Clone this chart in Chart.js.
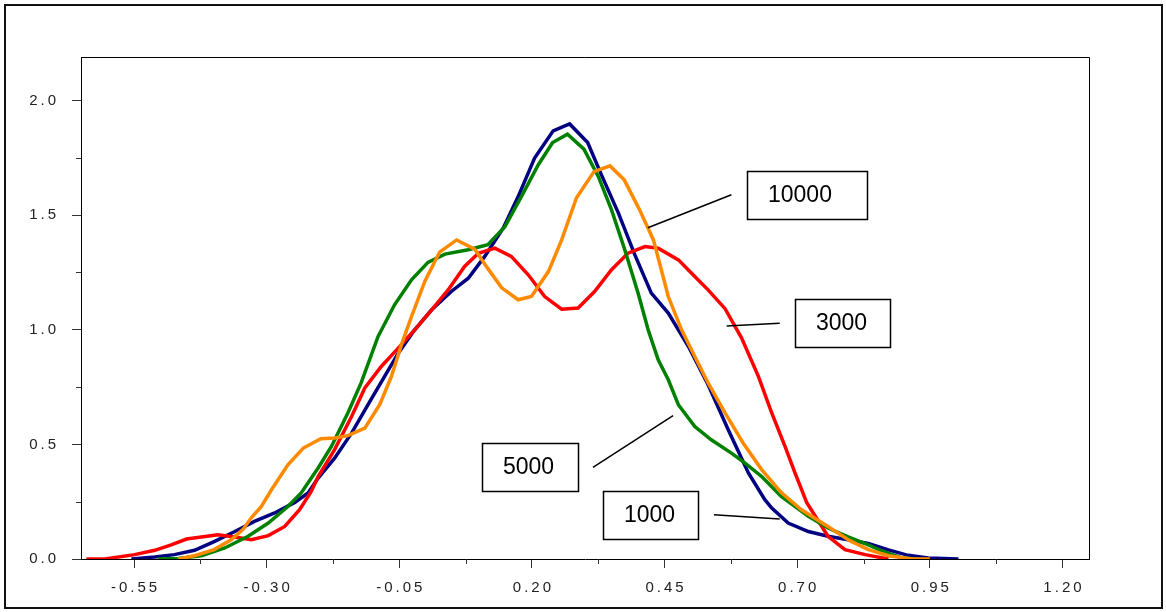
<!DOCTYPE html>
<html>
<head>
<meta charset="utf-8">
<script src="https://cdn.jsdelivr.net/npm/chart.js@4.4.1/dist/chart.umd.min.js"></script>
<style>
  html, body { margin: 0; padding: 0; background: #fff; }
  #wrap { width: 1166px; height: 612px; }
</style>
</head>
<body>
<div id="wrap"><canvas id="density" width="1166" height="612"></canvas></div>
<script>
// kernel density estimates, one curve per sample size
const xs1000 = [-0.555, -0.511, -0.474, -0.436, -0.398, -0.360, -0.323, -0.285, -0.247, -0.222, -0.203, -0.172, -0.140, -0.109, -0.078, -0.052, -0.021, 0.011, 0.048, 0.080, 0.111, 0.146, 0.174, 0.205, 0.240, 0.271, 0.305, 0.331, 0.363, 0.394, 0.425, 0.457, 0.495, 0.532, 0.570, 0.608, 0.639, 0.652, 0.683, 0.721, 0.758, 0.796, 0.834, 0.872, 0.909, 0.947, 1.004];
const ys1000 = [0, 0.009, 0.019, 0.038, 0.077, 0.120, 0.164, 0.201, 0.247, 0.288, 0.353, 0.440, 0.549, 0.673, 0.796, 0.898, 1.000, 1.087, 1.167, 1.225, 1.320, 1.444, 1.581, 1.749, 1.868, 1.898, 1.817, 1.676, 1.509, 1.327, 1.160, 1.073, 0.927, 0.760, 0.564, 0.375, 0.259, 0.222, 0.157, 0.120, 0.099, 0.084, 0.068, 0.040, 0.016, 0.004, 0];

const xs3000 = [-0.640, -0.605, -0.549, -0.511, -0.480, -0.451, -0.423, -0.392, -0.360, -0.329, -0.297, -0.266, -0.238, -0.216, -0.203, -0.172, -0.140, -0.115, -0.084, -0.052, -0.021, 0.011, 0.042, 0.073, 0.099, 0.130, 0.161, 0.193, 0.224, 0.256, 0.287, 0.318, 0.350, 0.381, 0.413, 0.438, 0.476, 0.506, 0.532, 0.564, 0.595, 0.627, 0.652, 0.677, 0.696, 0.718, 0.758, 0.790, 0.828, 0.872];
const ys3000 = [0, 0, 0.019, 0.038, 0.062, 0.087, 0.096, 0.106, 0.096, 0.084, 0.102, 0.142, 0.215, 0.295, 0.360, 0.477, 0.622, 0.746, 0.840, 0.920, 1.000, 1.087, 1.174, 1.276, 1.334, 1.356, 1.320, 1.240, 1.145, 1.090, 1.095, 1.167, 1.262, 1.334, 1.363, 1.356, 1.305, 1.235, 1.174, 1.092, 0.965, 0.796, 0.637, 0.491, 0.375, 0.246, 0.099, 0.041, 0.019, 0];

const xs5000 = [-0.505, -0.467, -0.423, -0.379, -0.335, -0.297, -0.260, -0.235, -0.203, -0.178, -0.147, -0.122, -0.090, -0.059, -0.027, 0.004, 0.036, 0.080, 0.117, 0.149, 0.180, 0.212, 0.239, 0.267, 0.298, 0.325, 0.350, 0.375, 0.400, 0.419, 0.438, 0.457, 0.476, 0.507, 0.538, 0.576, 0.601, 0.633, 0.670, 0.721, 0.758, 0.796, 0.834, 0.860, 0.897, 0.925];
const ys5000 = [0, 0.002, 0.014, 0.048, 0.099, 0.157, 0.229, 0.288, 0.397, 0.491, 0.637, 0.768, 0.971, 1.109, 1.218, 1.294, 1.330, 1.349, 1.371, 1.450, 1.581, 1.720, 1.817, 1.853, 1.788, 1.669, 1.523, 1.349, 1.160, 1.000, 0.869, 0.782, 0.673, 0.578, 0.520, 0.462, 0.419, 0.360, 0.273, 0.186, 0.135, 0.097, 0.062, 0.035, 0.005, 0];

const xs10000 = [-0.467, -0.436, -0.399, -0.367, -0.345, -0.329, -0.310, -0.291, -0.260, -0.231, -0.198, -0.172, -0.147, -0.115, -0.087, -0.065, -0.046, -0.027, -0.002, 0.026, 0.058, 0.092, 0.116, 0.143, 0.174, 0.199, 0.231, 0.256, 0.284, 0.317, 0.347, 0.374, 0.403, 0.429, 0.457, 0.482, 0.510, 0.532, 0.564, 0.598, 0.633, 0.670, 0.708, 0.758, 0.799, 0.834, 0.872, 0.916, 0.950];
const ys10000 = [0, 0.014, 0.041, 0.084, 0.128, 0.180, 0.229, 0.302, 0.411, 0.484, 0.525, 0.528, 0.538, 0.571, 0.673, 0.796, 0.935, 1.058, 1.211, 1.339, 1.392, 1.352, 1.270, 1.183, 1.131, 1.145, 1.254, 1.392, 1.576, 1.690, 1.715, 1.654, 1.523, 1.392, 1.145, 1.000, 0.869, 0.768, 0.637, 0.506, 0.390, 0.290, 0.215, 0.142, 0.080, 0.041, 0.014, 0, 0];

const xTickValues = [-0.55, -0.30, -0.05, 0.20, 0.45, 0.70, 0.95, 1.20];
const xTickLabels = ['-0.55', '-0.30', '-0.05', '0.20', '0.45', '0.70', '0.95', '1.20'];
const xMinorTicks = [-0.425, -0.175, 0.075, 0.325, 0.575, 0.825, 1.075];
const yTickValues = [0, 0.5, 1.0, 1.5, 2.0];
const yTickLabels = ['0.0', '0.5', '1.0', '1.5', '2.0'];
const yMinorTicks = [0.25, 0.75, 1.25, 1.75];

// boxed labels: box anchored by its left edge, leader line runs to the curve
const callouts = [
  { text: '10000', box: [0.605, 1.589], width: 120, from: [0.576, 1.589], to: [0.4185, 1.445] },
  { text: '3000', box: [0.695, 1.030], width: 95, from: [0.667, 1.029], to: [0.567, 1.017] },
  { text: '5000', box: [0.105, 0.402], width: 96, from: [0.315, 0.400], to: [0.466, 0.625] },
  { text: '1000', box: [0.333, 0.193], width: 95, from: [0.543, 0.193], to: [0.667, 0.174] }
];

function points(xs, ys) {
  return xs.map((x, i) => ({ x: x, y: ys[i] }));
}

// spread the characters of a tick label apart
function spaced(s) {
  return s.split('').join('\u2009');
}

const frame = {
  id: 'frame',
  beforeDraw(chart) {
    const ctx = chart.ctx;
    ctx.save();
    ctx.fillStyle = '#fff';
    ctx.fillRect(0, 0, chart.width, chart.height);
    ctx.restore();
  },
  afterDraw(chart) {
    const ctx = chart.ctx;
    const a = chart.chartArea;
    const x = chart.scales.x;
    const y = chart.scales.y;
    ctx.save();

    // top and right edges of the plot box
    ctx.strokeStyle = '#000';
    ctx.lineWidth = 1;
    ctx.beginPath();
    ctx.moveTo(a.left, Math.round(a.top) + 0.5);
    ctx.lineTo(Math.round(a.right) + 0.5, Math.round(a.top) + 0.5);
    ctx.lineTo(Math.round(a.right) + 0.5, a.bottom);
    ctx.stroke();

    // short minor ticks
    ctx.strokeStyle = '#333';
    ctx.beginPath();
    xMinorTicks.forEach(v => {
      const px = Math.round(x.getPixelForValue(v)) + 0.5;
      ctx.moveTo(px, a.bottom);
      ctx.lineTo(px, a.bottom + 5);
    });
    yMinorTicks.forEach(v => {
      const py = Math.round(y.getPixelForValue(v)) + 0.5;
      ctx.moveTo(a.left - 5, py);
      ctx.lineTo(a.left, py);
    });
    ctx.stroke();

    // callout boxes and leader lines
    ctx.font = "23px 'Liberation Sans', Arial, sans-serif";
    ctx.textAlign = 'left';
    ctx.textBaseline = 'middle';
    callouts.forEach(c => {
      const bx = Math.round(x.getPixelForValue(c.box[0]));
      const by = Math.round(y.getPixelForValue(c.box[1]));
      ctx.strokeStyle = '#000';
      ctx.lineWidth = 1.5;
      ctx.strokeRect(bx + 0.5, by - 24 + 0.5, c.width, 48);
      ctx.fillStyle = '#000';
      ctx.fillText(c.text, bx + 21, by + 1);
      ctx.beginPath();
      ctx.moveTo(x.getPixelForValue(c.from[0]), y.getPixelForValue(c.from[1]));
      ctx.lineTo(x.getPixelForValue(c.to[0]), y.getPixelForValue(c.to[1]));
      ctx.stroke();
    });

    // outer border
    ctx.strokeStyle = '#111';
    ctx.lineWidth = 2;
    ctx.strokeRect(5, 5, chart.width - 9, chart.height - 9);
    ctx.restore();
  }
};

Chart.defaults.font.family = "'Liberation Sans', Arial, sans-serif";

const tickFont = { size: 15 };

new Chart(document.getElementById('density'), {
  type: 'line',
  data: {
    datasets: [
      { label: '1000', data: points(xs1000, ys1000), borderColor: '#000080', order: 3 },
      { label: '3000', data: points(xs3000, ys3000), borderColor: '#ff0000', order: 2 },
      { label: '5000', data: points(xs5000, ys5000), borderColor: '#008000', order: 1 },
      { label: '10000', data: points(xs10000, ys10000), borderColor: '#ff8a00', order: 0 }
    ]
  },
  options: {
    responsive: false,
    animation: false,
    devicePixelRatio: 1,
    layout: { padding: { top: 57, right: 77, left: 0, bottom: 0 } },
    elements: {
      point: { radius: 0 },
      line: { borderWidth: 3.5, tension: 0, fill: false }
    },
    plugins: {
      legend: { display: false },
      tooltip: { enabled: false }
    },
    scales: {
      x: {
        type: 'linear',
        min: -0.65,
        max: 1.25,
        afterBuildTicks: scale => { scale.ticks = xTickValues.map(v => ({ value: v })); },
        afterFit: scale => { scale.height = 53; },
        grid: { drawOnChartArea: false, drawTicks: true, tickLength: 9, tickColor: '#333' },
        border: { display: true, color: '#000', width: 1 },
        ticks: {
          autoSkip: false,
          maxRotation: 0,
          minRotation: 0,
          padding: 11,
          color: '#222',
          font: tickFont,
          callback: (value, index) => spaced(xTickLabels[index])
        }
      },
      y: {
        type: 'linear',
        min: 0,
        max: 2.19,
        afterBuildTicks: scale => { scale.ticks = yTickValues.map(v => ({ value: v })); },
        afterFit: scale => { scale.width = 81; },
        grid: { drawOnChartArea: false, drawTicks: true, tickLength: 9, tickColor: '#333' },
        border: { display: true, color: '#000', width: 1 },
        ticks: {
          padding: 16,
          color: '#222',
          font: tickFont,
          callback: (value, index) => spaced(yTickLabels[index])
        }
      }
    }
  },
  plugins: [frame]
});
</script>
</body>
</html>
